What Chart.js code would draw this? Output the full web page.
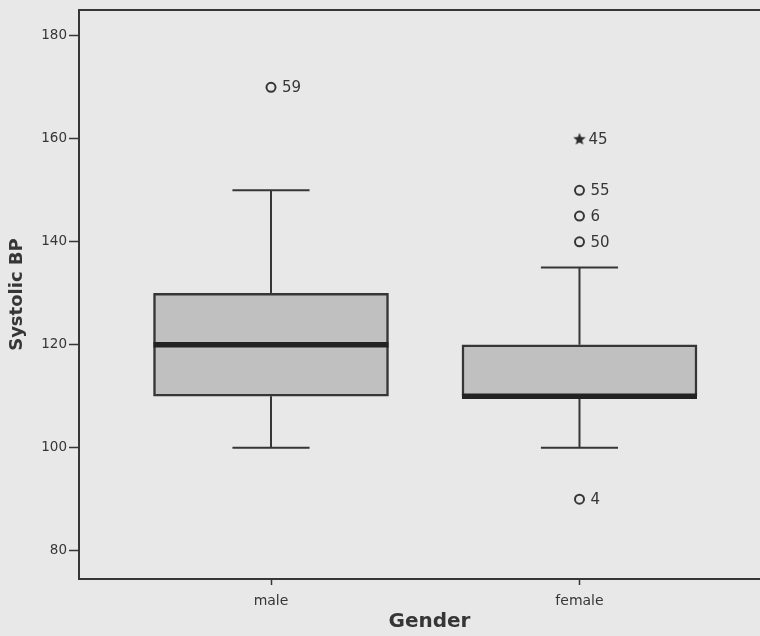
<!DOCTYPE html>
<html>
<head>
<meta charset="utf-8">
<script src="https://cdn.jsdelivr.net/npm/chart.js@4.4.1/dist/chart.umd.min.js"></script>
<style>
  html, body { margin: 0; padding: 0; background: #e8e8e8; overflow: hidden; }
  #wrap { width: 790px; height: 636px; }
</style>
</head>
<body>
<div id="wrap"><canvas id="bpChart" width="790" height="636"></canvas></div>
<script>
// box plot stats
const groups = ['male', 'female'];
const groupPos = [1, 2];
const q1 = [110, 110];
const median = [120, 110];
const q3 = [130, 120];
const whiskLow = [100, 100];
const whiskHigh = [150, 135];

// outliers (case numbers shown next to them)
const outlierPos = [1, 2, 2, 2, 2, 2];
const outlierVal = [170, 160, 150, 145, 140, 90];
const outlierId = ['59', '45', '55', '6', '50', '4'];
const outlierExtreme = [false, true, false, false, false, false];

const yTicks = [80, 100, 120, 140, 160, 180];

const ink = '#363636';
const bg = '#e8e8e8';

// filled star for the extreme case
const starImg = document.createElement('canvas');
starImg.width = 14; starImg.height = 14;
(function () {
  const c = starImg.getContext('2d');
  c.fillStyle = '#2a2a2a';
  c.beginPath();
  for (let i = 0; i < 10; i++) {
    const r = i % 2 === 0 ? 6.5 : 2.8;
    const a = -Math.PI / 2 + i * Math.PI / 5;
    const px = 7 + r * Math.cos(a), py = 7.6 + r * Math.sin(a);
    if (i === 0) c.moveTo(px, py); else c.lineTo(px, py);
  }
  c.closePath();
  c.fill();
})();

const boxPlot = {
  id: 'boxPlot',
  beforeDraw(chart) {
    const ctx = chart.ctx;
    ctx.save();
    ctx.fillStyle = bg;
    ctx.fillRect(0, 0, chart.width, chart.height);
    ctx.restore();
  },
  beforeDatasetsDraw(chart) {
    const { ctx, scales: { x, y } } = chart;
    ctx.save();
    ctx.strokeStyle = ink;
    ctx.lineWidth = 2;
    groupPos.forEach((p, i) => {
      const cx = x.getPixelForValue(p);
      const half = x.getPixelForValue(p + 0.125) - cx;
      ctx.beginPath();
      ctx.moveTo(cx, y.getPixelForValue(q3[i]));
      ctx.lineTo(cx, y.getPixelForValue(whiskHigh[i]));
      ctx.moveTo(cx - half, y.getPixelForValue(whiskHigh[i]));
      ctx.lineTo(cx + half, y.getPixelForValue(whiskHigh[i]));
      ctx.moveTo(cx, y.getPixelForValue(q1[i]));
      ctx.lineTo(cx, y.getPixelForValue(whiskLow[i]));
      ctx.moveTo(cx - half, y.getPixelForValue(whiskLow[i]));
      ctx.lineTo(cx + half, y.getPixelForValue(whiskLow[i]));
      ctx.stroke();
    });
    ctx.restore();
  },
  afterDatasetsDraw(chart) {
    const { ctx, scales: { x, y }, chartArea } = chart;
    ctx.save();
    // medians
    const boxes = chart.getDatasetMeta(0).data;
    ctx.strokeStyle = '#222222';
    ctx.lineWidth = 5.5;
    boxes.forEach((el, i) => {
      const my = y.getPixelForValue(median[i]);
      ctx.beginPath();
      ctx.moveTo(el.x - el.width / 2, my);
      ctx.lineTo(el.x + el.width / 2, my);
      ctx.stroke();
    });
    // top frame line
    ctx.strokeStyle = ink;
    ctx.lineWidth = 2;
    ctx.beginPath();
    ctx.moveTo(chartArea.left, chartArea.top);
    ctx.lineTo(chartArea.right, chartArea.top);
    ctx.stroke();
    // outlier case labels
    ctx.fillStyle = ink;
    ctx.font = '15px "DejaVu Sans"';
    ctx.textBaseline = 'middle';
    chart.getDatasetMeta(1).data.forEach((pt, i) => {
      ctx.fillText(outlierId[i], pt.x + (outlierExtreme[i] ? 9 : 11), pt.y + 1);
    });
    ctx.restore();
  }
};

new Chart(document.getElementById('bpChart'), {
  type: 'bar',
  data: {
    datasets: [{
      label: 'Systolic BP',
      data: groupPos.map((p, i) => ({ x: p, y: [q1[i], q3[i]] })),
      backgroundColor: '#c0c0c0',
      borderColor: ink,
      borderWidth: 2.5,
      borderSkipped: false,
      barThickness: 235
    }, {
      type: 'scatter',
      label: 'outliers',
      data: outlierPos.map((p, i) => ({ x: p, y: outlierVal[i] })),
      pointStyle: c => outlierExtreme[c.dataIndex] ? starImg : 'circle',
      pointRadius: 4.5,
      borderWidth: 2,
      borderColor: ink,
      backgroundColor: bg
    }]
  },
  options: {
    responsive: false,
    animation: false,
    layout: { padding: { top: 9, right: 10, left: 0, bottom: 0 } },
    plugins: { legend: { display: false }, tooltip: { enabled: false } },
    scales: {
      x: {
        type: 'linear',
        min: 0.3776,
        max: 2.65,
        offset: false,
        afterBuildTicks: s => { s.ticks = groupPos.map(v => ({ value: v })); },
        afterFit: s => { s.height = 57; },
        ticks: {
          callback: v => groups[groupPos.indexOf(v)],
          color: ink,
          font: { family: 'DejaVu Sans', size: 14 },
          padding: 8,
          maxRotation: 0
        },
        grid: { drawOnChartArea: false, offset: false, tickLength: 6, tickColor: ink, tickWidth: 1.5 },
        border: { display: true, color: ink, width: 2 },
        title: {
          display: true,
          text: 'Gender',
          color: ink,
          font: { family: 'DejaVu Sans', size: 20, weight: 'bold' },
          padding: { top: 0, bottom: 2 }
        }
      },
      y: {
        min: 74.5,
        max: 185,
        afterBuildTicks: s => { s.ticks = yTicks.map(v => ({ value: v })); },
        afterFit: s => { s.width = 79; },
        ticks: {
          color: ink,
          font: { family: 'DejaVu Sans', size: 13.5 },
          padding: 2
        },
        grid: { drawOnChartArea: false, tickLength: 10, tickColor: ink, tickWidth: 1.5 },
        border: { display: true, color: ink, width: 2 },
        title: {
          display: true,
          text: 'Systolic BP',
          color: ink,
          font: { family: 'DejaVu Sans', size: 18, weight: 'bold' },
          padding: { top: 7, bottom: 0 }
        }
      }
    }
  },
  plugins: [boxPlot]
});
</script>
</body>
</html>
